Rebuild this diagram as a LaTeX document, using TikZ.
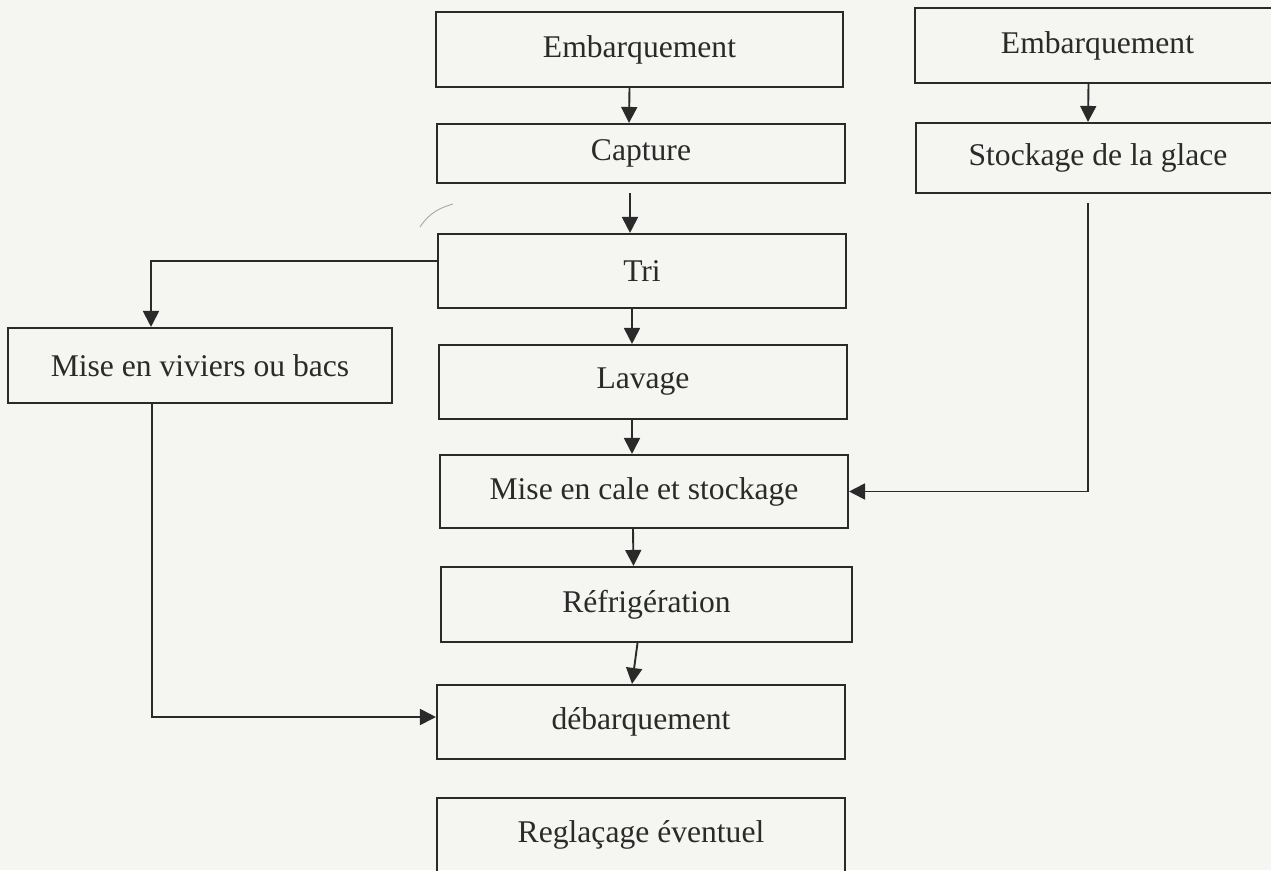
\documentclass[tikz,border=0pt]{standalone}
\usepackage{fontspec}
\setmainfont{Liberation Serif}
\usetikzlibrary{arrows.meta}
\definecolor{paper}{HTML}{F5F5F2}
\definecolor{ink}{HTML}{2A2A2A}
\tikzset{
  stepbox/.style={draw=ink, line width=2.1pt, rectangle, inner sep=0pt,
    text=ink, font=\fontsize{31.6}{36}\selectfont},
  flow/.style={draw=ink, line width=1.9pt,
    -{Triangle[length=16pt,width=16pt]}},
  link/.style={draw=ink, line width=1.9pt}
}
\begin{document}
\begin{tikzpicture}[x=1pt,y=-1pt]
  \useasboundingbox (0,0) rectangle (1271,870);
  \fill[paper] (0,0) rectangle (1271,870);
  \clip (0,0) rectangle (1271,870);

  % main column
  \node[stepbox, minimum width=407, minimum height=75] (emb1) at (639.5,49.5) {Embarquement};
  \node[stepbox, minimum width=408, minimum height=59] (cap)  at (641,153.5) {Capture};
  \node[stepbox, minimum width=408, minimum height=74] (tri)  at (642,271) {Tri};
  \node[stepbox, minimum width=408, minimum height=74] (lav)  at (643,382) {Lavage};
  \node[stepbox, minimum width=408, minimum height=73] (cale) at (644,491.5) {Mise en cale et stockage};
  \node[stepbox, minimum width=411, minimum height=75] (refr) at (646.5,604.5) {Réfrigération};
  \node[stepbox, minimum width=408, minimum height=74] (deb)  at (641,722) {débarquement};
  \node[stepbox, minimum width=408, minimum height=74] (regl) at (641,835) {Reglaçage éventuel};

  % side branches
  \node[stepbox, minimum width=384, minimum height=75] (viv)   at (200,365.5) {Mise en viviers ou bacs};
  \node[stepbox, minimum width=365, minimum height=75] (emb2)  at (1097.5,45.5) {Embarquement};
  \node[stepbox, minimum width=364, minimum height=70] (stock) at (1098,158) {Stockage de la glace};

  % vertical flow of the main column
  \draw[flow] ([xshift=-10pt]emb1.south) -- ([xshift=-12pt]cap.north);
  \draw[flow] ([xshift=-11pt,yshift=-9pt]cap.south) -- ([xshift=-12pt]tri.north);
  \draw[flow] ([xshift=-10pt]tri.south) -- ([xshift=-11pt]lav.north);
  \draw[flow] ([xshift=-11pt]lav.south) -- ([xshift=-12pt]cale.north);
  \draw[flow] ([xshift=-11pt]cale.south) -- ([xshift=-13pt]refr.north);
  \draw[flow] ([xshift=-9pt]refr.south) -- ([xshift=-9pt]deb.north);

  % ice line
  \draw[flow] ([xshift=-9pt]emb2.south) -- ([xshift=-10pt]stock.north);
  \coordinate (ice) at ([xshift=-10pt,yshift=-9pt]stock.south);
  \draw[flow] (ice) |- (cale.east);

  % live storage branch
  \draw[flow] ([yshift=10pt]tri.west) -| ([xshift=-49pt]viv.north);
  \draw[flow] ([xshift=-48pt]viv.south) |- ([yshift=5pt]deb.west);

  % pencil stroke
  \draw[gray!70, line width=0.9pt] (420,227) .. controls (430,212) and (440,208) .. (453,204);
\end{tikzpicture}
\end{document}
